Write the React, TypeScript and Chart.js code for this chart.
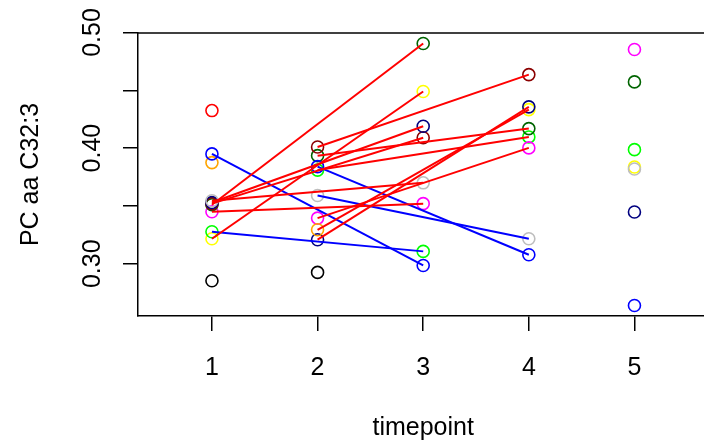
import React, { useEffect, useRef } from "react";
import { Chart, registerables } from "chart.js";

Chart.register(...registerables);

// ---- data ----
const xTickValues = [1, 2, 3, 4, 5];
const xTickLabels = ["1", "2", "3", "4", "5"];
const yTickValues = [0.3, 0.35, 0.4, 0.45, 0.5];
const yLabelValues = [0.3, 0.4, 0.5];
const yLabelTexts = ["0.30", "0.40", "0.50"];
const xTitle = "timepoint";
const yTitle = "PC aa C32:3";

const tp1Colors = ["red", "blue", "orange", "gray", "navy", "darkred", "darkgreen", "magenta", "green", "yellow", "black"];
const tp1Values = [0.4325, 0.395, 0.3875, 0.3545, 0.353, 0.352, 0.351, 0.345, 0.3277, 0.3216, 0.2853];
const tp2Colors = ["darkred", "darkgreen", "blue", "green", "gray", "magenta", "orange", "navy", "black"];
const tp2Values = [0.401, 0.3935, 0.384, 0.381, 0.359, 0.3395, 0.3294, 0.3208, 0.2925];
const tp3Colors = ["darkgreen", "yellow", "navy", "darkred", "gray", "magenta", "green", "blue"];
const tp3Values = [0.4905, 0.449, 0.4189, 0.409, 0.37, 0.352, 0.3107, 0.2985];
const tp4Colors = ["darkred", "navy", "yellow", "darkgreen", "green", "magenta", "gray", "blue"];
const tp4Values = [0.4636, 0.4357, 0.4333, 0.4169, 0.4097, 0.4002, 0.3216, 0.3078];
const tp5Colors = ["magenta", "darkgreen", "green", "yellow", "gray", "navy", "blue"];
const tp5Values = [0.4853, 0.4573, 0.3987, 0.3837, 0.382, 0.3448, 0.2639];

// rising segments (red)
const upFromTime = [1, 1, 1, 1, 1, 1, 2, 2, 2, 2, 2, 2];
const upFromValue = [0.351, 0.3216, 0.353, 0.352, 0.3545, 0.345, 0.401, 0.3935, 0.381, 0.3395, 0.3294, 0.3208];
const upToTime = [3, 3, 3, 3, 3, 3, 4, 4, 4, 4, 4, 4];
const upToValue = [0.4905, 0.449, 0.4189, 0.409, 0.37, 0.352, 0.4636, 0.4169, 0.4097, 0.4002, 0.4333, 0.4357];
// falling segments (blue)
const downFromTime = [1, 1, 2, 2];
const downFromValue = [0.395, 0.3277, 0.384, 0.359];
const downToTime = [3, 3, 4, 4];
const downToValue = [0.2985, 0.3107, 0.3078, 0.3216];

const colorHex: Record<string, string> = {
  red: "#FF0000",
  blue: "#0000FF",
  orange: "#FFA500",
  gray: "#BEBEBE",
  navy: "#000080",
  darkred: "#8B0000",
  darkgreen: "#006400",
  magenta: "#FF00FF",
  green: "#00FF00",
  yellow: "#FFFF00",
  black: "#000000",
};

const FONT = '25px "Liberation Sans", Arial, Helvetica, sans-serif';

export default function App() {
  const ref = useRef<HTMLCanvasElement>(null);

  useEffect(() => {
    document.body.style.margin = "0";
    const canvas = ref.current;
    if (!canvas) return;

    const timeGroups = [
      { t: 1, colors: tp1Colors, values: tp1Values },
      { t: 2, colors: tp2Colors, values: tp2Values },
      { t: 3, colors: tp3Colors, values: tp3Values },
      { t: 4, colors: tp4Colors, values: tp4Values },
      { t: 5, colors: tp5Colors, values: tp5Values },
    ];
    const byColor: Record<string, { x: number; y: number }[]> = {};
    timeGroups.forEach((g) => {
      g.colors.forEach((c, i) => {
        if (!byColor[c]) byColor[c] = [];
        byColor[c].push({ x: g.t, y: g.values[i] });
      });
    });

    const datasets: any[] = [];
    upFromTime.forEach((_, i) => {
      datasets.push({
        data: [
          { x: upFromTime[i], y: upFromValue[i] },
          { x: upToTime[i], y: upToValue[i] },
        ],
        showLine: true,
        borderColor: "#FF0000",
        borderWidth: 2,
        pointRadius: 0,
        order: 0,
      });
    });
    downFromTime.forEach((_, i) => {
      datasets.push({
        data: [
          { x: downFromTime[i], y: downFromValue[i] },
          { x: downToTime[i], y: downToValue[i] },
        ],
        showLine: true,
        borderColor: "#0000FF",
        borderWidth: 2,
        pointRadius: 0,
        order: 0,
      });
    });
    Object.keys(byColor).forEach((c) => {
      datasets.push({
        data: byColor[c],
        showLine: false,
        pointStyle: "circle",
        pointRadius: 6,
        pointBorderWidth: 1.6,
        pointBorderColor: colorHex[c],
        pointBackgroundColor: "rgba(0,0,0,0)",
        order: 1,
      });
    });

    const textPlugin = {
      id: "rtext",
      afterDraw(chart: any) {
        const { ctx, chartArea } = chart;
        const xs = chart.scales.x;
        const ys = chart.scales.y;
        ctx.save();
        ctx.strokeStyle = "#000";
        ctx.lineWidth = 1.5;
        ctx.beginPath();
        ctx.moveTo(chartArea.left, chartArea.top);
        ctx.lineTo(chartArea.right, chartArea.top);
        ctx.stroke();

        ctx.fillStyle = "#000";
        ctx.font = FONT;
        ctx.textAlign = "center";
        ctx.textBaseline = "alphabetic";
        xTickValues.forEach((v, i) => {
          ctx.fillText(xTickLabels[i], xs.getPixelForValue(v), 375);
        });
        yLabelValues.forEach((v, i) => {
          ctx.save();
          ctx.translate(100, ys.getPixelForValue(v));
          ctx.rotate(-Math.PI / 2);
          ctx.fillText(yLabelTexts[i], 0, 0);
          ctx.restore();
        });
        ctx.fillText(xTitle, xs.getPixelForValue(3), 435);
        ctx.save();
        ctx.translate(38, (chartArea.top + chartArea.bottom) / 2);
        ctx.rotate(-Math.PI / 2);
        ctx.fillText(yTitle, 0, 0);
        ctx.restore();
        ctx.restore();
      },
    };

    const chart = new Chart(canvas, {
      type: "scatter",
      data: { datasets },
      options: {
        animation: false,
        responsive: false,
        devicePixelRatio: 1,
        layout: { padding: { top: 33, right: 0, left: 0, bottom: 0 } },
        plugins: { legend: { display: false }, tooltip: { enabled: false } },
        scales: {
          x: {
            type: "linear",
            min: 0.3,
            max: 5.7,
            afterBuildTicks: (s: any) => {
              s.ticks = xTickValues.map((v) => ({ value: v }));
            },
            afterFit: (s: any) => {
              s.height = 128;
            },
            ticks: { display: false },
            grid: {
              display: true,
              drawOnChartArea: false,
              drawTicks: true,
              tickLength: 15,
              color: "#000",
              lineWidth: 1.5,
            },
            border: { display: true, color: "#000", width: 1.5 },
          },
          y: {
            type: "linear",
            min: 0.2548,
            max: 0.4996,
            afterBuildTicks: (s: any) => {
              s.ticks = yTickValues.map((v) => ({ value: v }));
            },
            afterFit: (s: any) => {
              s.width = 138;
            },
            ticks: { display: false },
            grid: {
              display: true,
              drawOnChartArea: false,
              drawTicks: true,
              tickLength: 15,
              color: "#000",
              lineWidth: 1.5,
            },
            border: { display: true, color: "#000", width: 1.5 },
          },
        },
      },
      plugins: [textPlugin],
    } as any);

    return () => chart.destroy();
  }, []);

  return (
    <div
      style={{
        position: "fixed",
        left: 0,
        top: 0,
        width: 704,
        height: 444,
        overflow: "hidden",
        background: "#fff",
      }}
    >
      <canvas ref={ref} width={716} height={444} style={{ width: 716, height: 444, display: "block" }} />
    </div>
  );
}
